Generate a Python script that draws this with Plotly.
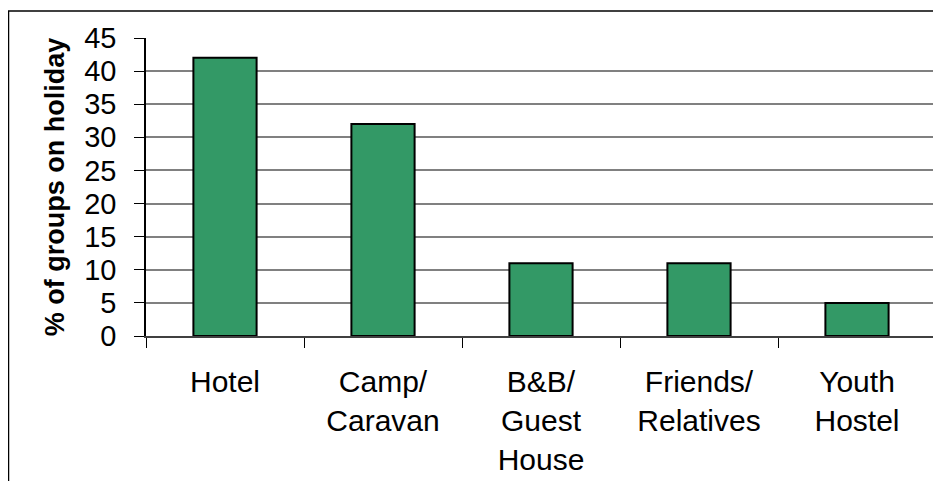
import plotly.graph_objects as go

categories = ["Hotel", "Camp/<br>Caravan", "B&B/<br>Guest<br>House", "Friends/<br>Relatives", "Youth<br>Hostel"]
values = [42, 32, 11, 11, 5]
y_title = "% of groups on holiday"

# page body has an 8px default margin; figure is sized/placed to compensate
OFF = 8
W, H = 941 - OFF, 481 - OFF
L, T = 146 - OFF, 38 - OFF
R = W - (936 - OFF)
B = H - (336 - OFF)
pw = W - L - R
ph = H - T - B

def px(x):
    return (x - OFF - L) / pw

def py(y):
    return (H - B - (y - OFF)) / ph

FONT = "Arial, Liberation Sans, sans-serif"

fig = go.Figure(go.Bar(
    x=categories, y=values,
    marker=dict(color="#339966", line=dict(color="black", width=2)),
))

fig.update_layout(
    width=W, height=H,
    margin=dict(l=L, r=R, t=T, b=B, pad=0),
    paper_bgcolor="white", plot_bgcolor="white",
    bargap=0.6,
    showlegend=False,
    font=dict(family=FONT, color="black", size=30),
    shapes=[
        dict(type="line", xref="paper", yref="paper", x0=px(8), x1=px(941), y0=py(11), y1=py(11),
             line=dict(color="black", width=1.5)),
        dict(type="line", xref="paper", yref="paper", x0=px(8.5), x1=px(8.5), y0=py(11), y1=py(481),
             line=dict(color="black", width=1.5)),
        dict(type="line", xref="paper", yref="paper", x0=1, x1=1, y0=0, y1=1,
             line=dict(color="#808080", width=1.5)),
    ],
)

fig.update_xaxes(
    type="category", automargin=False,
    showline=True, linecolor="#404040", linewidth=2,
    ticks="outside", tickson="boundaries", ticklen=10, tickcolor="black", tickwidth=1,
    tickfont=dict(size=30, family=FONT, color="black"),
    ticklabelstandoff=18,
    showgrid=False,
)
fig.update_yaxes(
    range=[0, 45], dtick=5, tick0=0, automargin=False,
    showline=True, linecolor="black", linewidth=1.5,
    ticks="outside", ticklen=10, tickcolor="black", tickwidth=1,
    tickfont=dict(size=29, family=FONT, color="black"),
    ticklabelstandoff=12,
    showgrid=True, gridcolor="#808080", gridwidth=1.5,
    zeroline=False,
    title=dict(text=y_title, font=dict(size=27, family=FONT, color="black", weight="bold"), standoff=12),
)

fig.write_html("out.html")
